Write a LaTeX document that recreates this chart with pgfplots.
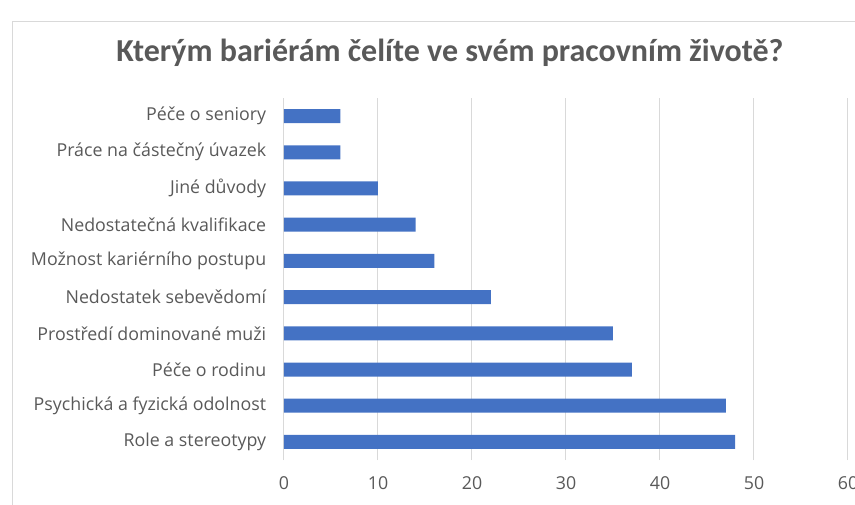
\documentclass[border=0pt]{standalone}
\usepackage{fontspec}
\setmainfont{Open Sans}
\newfontfamily\titlefont{Carlito}
\usepackage{pgfplots}
\pgfplotsset{compat=1.18}
\definecolor{barblue}{HTML}{4472C4}
\definecolor{txt}{HTML}{595959}
\definecolor{gridc}{HTML}{D9D9D9}
\begin{document}
\begin{tikzpicture}[x=1pt,y=1pt]
\path[use as bounding box] (0,0) rectangle (855,504);
\draw[gridc, line width=0.8pt] (12,483) rectangle (900,-50);
\node[text=txt, anchor=base, font=\titlefont\bfseries\fontsize{32}{36}\selectfont] at (450,442) {Kterým bariérám čelíte ve svém pracovním životě?};
\begin{axis}[at={(284pt,44pt)}, anchor=south west, scale only axis, width=564pt, height=362pt,
 xbar, bar width=14pt, xmin=0, xmax=60, ymin=-0.5, ymax=9.5,
 xtick={0,10,...,60}, ytick={0,...,9},
 yticklabels={Role a stereotypy, Psychická a fyzická odolnost, Péče o rodinu, Prostředí dominované muži, Nedostatek sebevědomí, Možnost kariérního postupu, Nedostatečná kvalifikace, Jiné důvody, Práce na částečný úvazek, Péče o seniory},
 xmajorgrids, major grid style={gridc, line width=1pt},
 axis line style={draw=none}, tick style={draw=none},
 tick label style={text=txt, font=\fontsize{17.8}{20}\selectfont},
 /pgf/number format/assume math mode=true,
 yticklabel style={xshift=-10pt},
 xticklabel style={yshift=-13pt},
]
\addplot[fill=barblue, draw=none] coordinates {(48,0) (47,1) (37,2) (35,3) (22,4) (16,5) (14,6) (10,7) (6,8) (6,9)};
\end{axis}
\end{tikzpicture}
\end{document}
